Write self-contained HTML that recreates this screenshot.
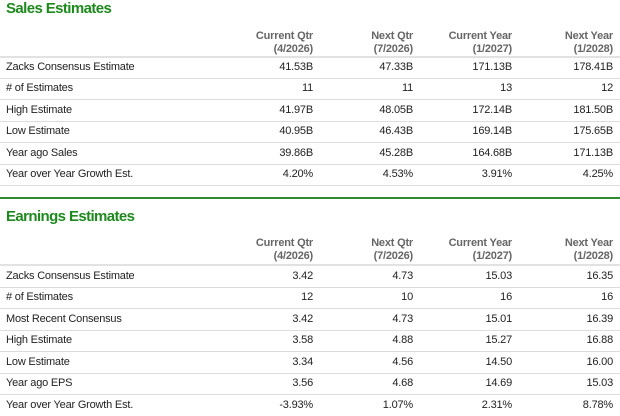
<!DOCTYPE html>
<html><head><style>
body{margin:0;width:620px;height:415px;background:#fff;font-family:"Liberation Sans",Arial,sans-serif;font-size:11px;color:#222;position:relative;overflow:hidden}
.t{position:absolute;left:6px;font-size:15px;font-weight:bold;color:#1e8a1e;letter-spacing:-0.6px}
.r{position:absolute;left:0;width:620px;height:21px;}
.r span{position:absolute;top:4px;white-space:nowrap;letter-spacing:-0.2px}
.l{left:6px}
.c1{right:307px}.c2{right:207px}.c3{right:108px}.c4{right:7px}
.h span{color:#666;font-weight:bold;text-align:right;line-height:13px;top:0}
.line{position:absolute;left:0;width:620px;height:1px;background:#ddd}
</style></head><body>
<div class="t" style="top:0px">Sales Estimates</div>
<div class="r h" style="top:30px"><span class="c1">Current Qtr<br>(4/2026)</span><span class="c2">Next Qtr<br>(7/2026)</span><span class="c3">Current Year<br>(1/2027)</span><span class="c4">Next Year<br>(1/2028)</span></div>
<div class="line" style="top:56px;height:2px;background:#e2e2e2"></div>
<div class="r" style="top:57px"><span class="l">Zacks Consensus Estimate</span><span class="c1">41.53B</span><span class="c2">47.33B</span><span class="c3">171.13B</span><span class="c4">178.41B</span></div>
<div class="line" style="top:78px"></div>
<div class="r" style="top:78px"><span class="l"># of Estimates</span><span class="c1">11</span><span class="c2">11</span><span class="c3">13</span><span class="c4">12</span></div>
<div class="line" style="top:99px"></div>
<div class="r" style="top:100px"><span class="l">High Estimate</span><span class="c1">41.97B</span><span class="c2">48.05B</span><span class="c3">172.14B</span><span class="c4">181.50B</span></div>
<div class="line" style="top:121px"></div>
<div class="r" style="top:121px"><span class="l">Low Estimate</span><span class="c1">40.95B</span><span class="c2">46.43B</span><span class="c3">169.14B</span><span class="c4">175.65B</span></div>
<div class="line" style="top:142px"></div>
<div class="r" style="top:143px"><span class="l">Year ago Sales</span><span class="c1">39.86B</span><span class="c2">45.28B</span><span class="c3">164.68B</span><span class="c4">171.13B</span></div>
<div class="line" style="top:164px"></div>
<div class="r" style="top:164px"><span class="l">Year over Year Growth Est.</span><span class="c1">4.20%</span><span class="c2">4.53%</span><span class="c3">3.91%</span><span class="c4">4.25%</span></div>
<div class="line" style="top:185px"></div>
<div class="line" style="top:197px;height:2px;background:#2e8b2e"></div>
<div class="t" style="top:208px">Earnings Estimates</div>
<div class="r h" style="top:237px"><span class="c1">Current Qtr<br>(4/2026)</span><span class="c2">Next Qtr<br>(7/2026)</span><span class="c3">Current Year<br>(1/2027)</span><span class="c4">Next Year<br>(1/2028)</span></div>
<div class="line" style="top:264px;height:2px;background:#e2e2e2"></div>
<div class="r" style="top:266px"><span class="l">Zacks Consensus Estimate</span><span class="c1">3.42</span><span class="c2">4.73</span><span class="c3">15.03</span><span class="c4">16.35</span></div>
<div class="line" style="top:287px"></div>
<div class="r" style="top:287px"><span class="l"># of Estimates</span><span class="c1">12</span><span class="c2">10</span><span class="c3">16</span><span class="c4">16</span></div>
<div class="line" style="top:308px"></div>
<div class="r" style="top:309px"><span class="l">Most Recent Consensus</span><span class="c1">3.42</span><span class="c2">4.73</span><span class="c3">15.01</span><span class="c4">16.39</span></div>
<div class="line" style="top:330px"></div>
<div class="r" style="top:330px"><span class="l">High Estimate</span><span class="c1">3.58</span><span class="c2">4.88</span><span class="c3">15.27</span><span class="c4">16.88</span></div>
<div class="line" style="top:351px"></div>
<div class="r" style="top:352px"><span class="l">Low Estimate</span><span class="c1">3.34</span><span class="c2">4.56</span><span class="c3">14.50</span><span class="c4">16.00</span></div>
<div class="line" style="top:373px"></div>
<div class="r" style="top:373px"><span class="l">Year ago EPS</span><span class="c1">3.56</span><span class="c2">4.68</span><span class="c3">14.69</span><span class="c4">15.03</span></div>
<div class="line" style="top:394px"></div>
<div class="r" style="top:395px"><span class="l">Year over Year Growth Est.</span><span class="c1">-3.93%</span><span class="c2">1.07%</span><span class="c3">2.31%</span><span class="c4">8.78%</span></div>
</body></html>
